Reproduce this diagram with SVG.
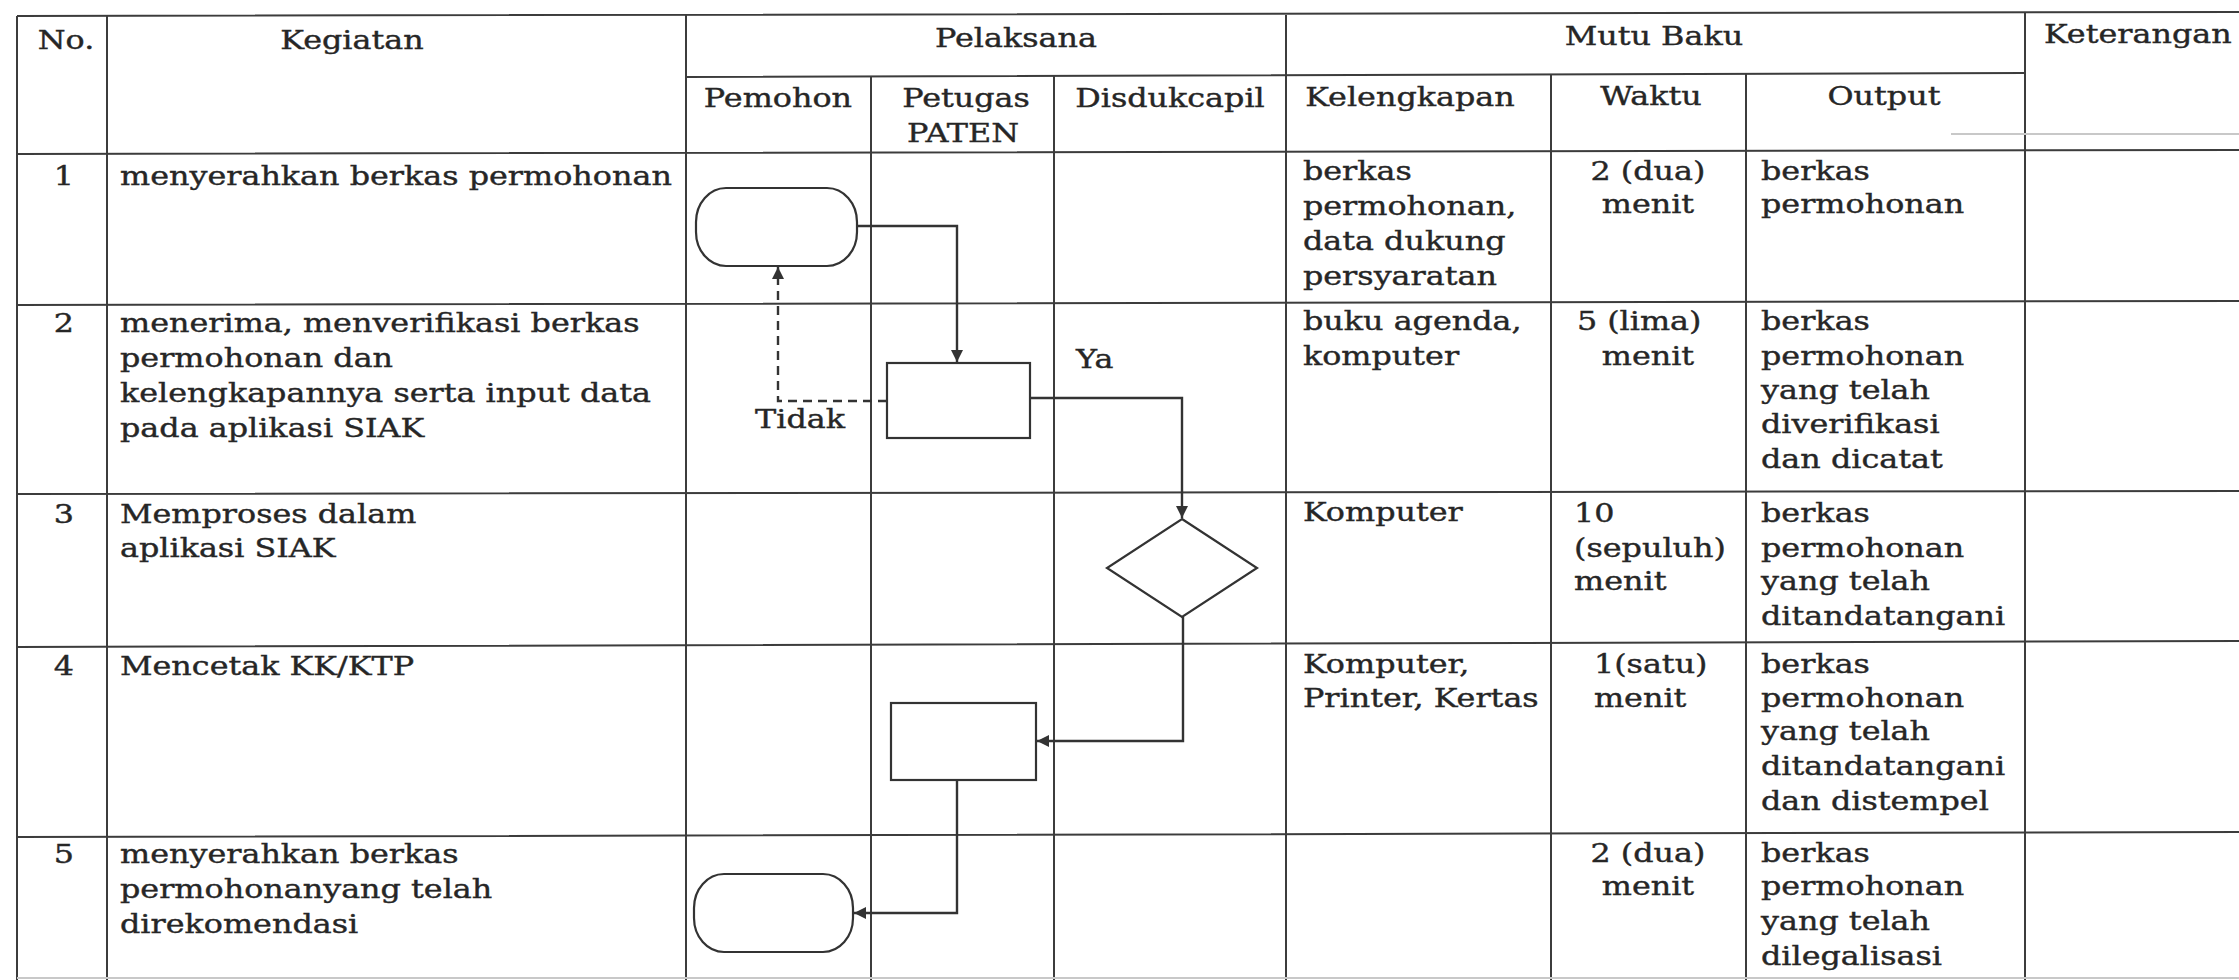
<svg xmlns="http://www.w3.org/2000/svg" width="2239" height="980" viewBox="0 0 2239 980">
  <style>
    .grid { stroke: #3c3c3c; stroke-width: 2; fill: none; }
    .faint { stroke: #c8c8c8; stroke-width: 2; fill: none; }
    .shape { stroke: #333; stroke-width: 2.2; fill: #fff; }
    .flow { stroke: #333; stroke-width: 2.4; fill: none; }
    .dash { stroke-dasharray: 9 6; }
    text { font-family: "DejaVu Serif", "Liberation Serif", serif; font-size: 26.5px; fill: #262626; stroke: #262626; stroke-width: 0.4; }
    .c { text-anchor: middle; }
  </style>
  <defs>
    <marker id="arrow" markerUnits="userSpaceOnUse" markerWidth="14" markerHeight="12" refX="12" refY="6" orient="auto">
      <path d="M0,0 L12,6 L0,12 z" fill="#333"/>
    </marker>
  </defs>
  <rect width="2239" height="980" fill="#fff"/>

  <!-- table grid -->
  <g id="table">
    <path class="grid" d="M17,16 L2239,12 M686,77 L2025,73 M17,154 L2239,150 M17,305 L2239,301 M17,494 L2239,491 M17,647 L2239,641 M17,837 L2239,832"/>
    <path class="grid" d="M17,16 V980 M107,16 V980 M686,15 V980 M871,77 V980 M1054,76 V980 M1286,15 V980 M1551,74 V980 M1746,74 V980 M2025,13 V980"/>
    <path class="faint" d="M1951,134 H2239 M17,978 H2239"/>
  </g>

  <!-- table texts (horizontally widened type) -->
  <g id="labels" transform="scale(1.2 1)">
    <!-- header -->
    <text class="c" x="55" y="49">No.</text>
    <text class="c" x="293.3" y="49">Kegiatan</text>
    <text class="c" x="846.7" y="47">Pelaksana</text>
    <text class="c" x="1378.3" y="45">Mutu Baku</text>
    <text x="1703.3" y="43">Keterangan</text>
    <text class="c" x="648.3" y="107">Pemohon</text>
    <text class="c" x="805" y="107">Petugas</text>
    <text class="c" x="802.5" y="142">PATEN</text>
    <text class="c" x="975" y="107">Disdukcapil</text>
    <text class="c" x="1175" y="106">Kelengkapan</text>
    <text class="c" x="1375.8" y="105">Waktu</text>
    <text class="c" x="1570" y="105">Output</text>

    <!-- row 1 -->
    <text class="c" x="53.3" y="185">1</text>
    <text x="100" y="185">menyerahkan berkas permohonan</text>
    <text x="1085.8" y="180">berkas</text>
    <text x="1085.8" y="215">permohonan,</text>
    <text x="1085.8" y="250">data dukung</text>
    <text x="1085.8" y="285">persyaratan</text>
    <text class="c" x="1373.3" y="180">2 (dua)</text>
    <text class="c" x="1373.3" y="213">menit</text>
    <text x="1467.5" y="180">berkas</text>
    <text x="1467.5" y="213">permohonan</text>

    <!-- row 2 -->
    <text class="c" x="53.3" y="332">2</text>
    <text x="100" y="332">menerima, menverifikasi berkas</text>
    <text x="100" y="367">permohonan dan</text>
    <text x="100" y="402">kelengkapannya serta input data</text>
    <text x="100" y="437">pada aplikasi SIAK</text>
    <text x="1085.8" y="330">buku agenda,</text>
    <text x="1085.8" y="365">komputer</text>
    <text class="c" x="1366" y="330">5 (lima)</text>
    <text class="c" x="1373.3" y="365">menit</text>
    <text x="1467.5" y="330">berkas</text>
    <text x="1467.5" y="365">permohonan</text>
    <text x="1467.5" y="399">yang telah</text>
    <text x="1467.5" y="433">diverifikasi</text>
    <text x="1467.5" y="468">dan dicatat</text>
    <text x="896.7" y="368">Ya</text>
    <text x="629.2" y="428">Tidak</text>

    <!-- row 3 -->
    <text class="c" x="53.3" y="523">3</text>
    <text x="100" y="523">Memproses dalam</text>
    <text x="100" y="557">aplikasi SIAK</text>
    <text x="1085.8" y="521">Komputer</text>
    <text x="1311.7" y="522">10</text>
    <text x="1311.7" y="557">(sepuluh)</text>
    <text x="1311.7" y="590">menit</text>
    <text x="1467.5" y="522">berkas</text>
    <text x="1467.5" y="557">permohonan</text>
    <text x="1467.5" y="590">yang telah</text>
    <text x="1467.5" y="625">ditandatangani</text>

    <!-- row 4 -->
    <text class="c" x="53.3" y="675">4</text>
    <text x="100" y="675">Mencetak KK/KTP</text>
    <text x="1085.8" y="673">Komputer,</text>
    <text x="1085.8" y="707">Printer, Kertas</text>
    <text x="1328.3" y="673">1(satu)</text>
    <text x="1328.3" y="707">menit</text>
    <text x="1467.5" y="673">berkas</text>
    <text x="1467.5" y="707">permohonan</text>
    <text x="1467.5" y="740">yang telah</text>
    <text x="1467.5" y="775">ditandatangani</text>
    <text x="1467.5" y="810">dan distempel</text>

    <!-- row 5 -->
    <text class="c" x="53.3" y="863">5</text>
    <text x="100" y="863">menyerahkan berkas</text>
    <text x="100" y="898">permohonanyang telah</text>
    <text x="100" y="933">direkomendasi</text>
    <text class="c" x="1373.3" y="862">2 (dua)</text>
    <text class="c" x="1373.3" y="895">menit</text>
    <text x="1467.5" y="862">berkas</text>
    <text x="1467.5" y="895">permohonan</text>
    <text x="1467.5" y="930">yang telah</text>
    <text x="1467.5" y="965">dilegalisasi</text>
  </g>

  <!-- flow connectors -->
  <g id="connectors">
    <path class="flow" d="M857,226 H957 V362" marker-end="url(#arrow)"/>
    <path class="flow" d="M1030,398 H1182 V518" marker-end="url(#arrow)"/>
    <path class="flow dash" d="M887,401 H778 V267" marker-end="url(#arrow)"/>
    <path class="flow" d="M1183,617 V741 H1037" marker-end="url(#arrow)"/>
    <path class="flow" d="M957,780 V913 H854" marker-end="url(#arrow)"/>
  </g>

  <!-- flow nodes -->
  <g id="start-terminal">
    <rect class="shape" x="696" y="188" width="161" height="78" rx="30" ry="34"/>
  </g>
  <g id="verify-process">
    <rect class="shape" x="887" y="363" width="143" height="75"/>
  </g>
  <g id="siak-decision">
    <polygon class="shape" points="1182,519 1257,568 1182,617 1107,568"/>
  </g>
  <g id="print-process">
    <rect class="shape" x="891" y="703" width="145" height="77"/>
  </g>
  <g id="end-terminal">
    <rect class="shape" x="694" y="874" width="159" height="78" rx="30" ry="34"/>
  </g>
</svg>
